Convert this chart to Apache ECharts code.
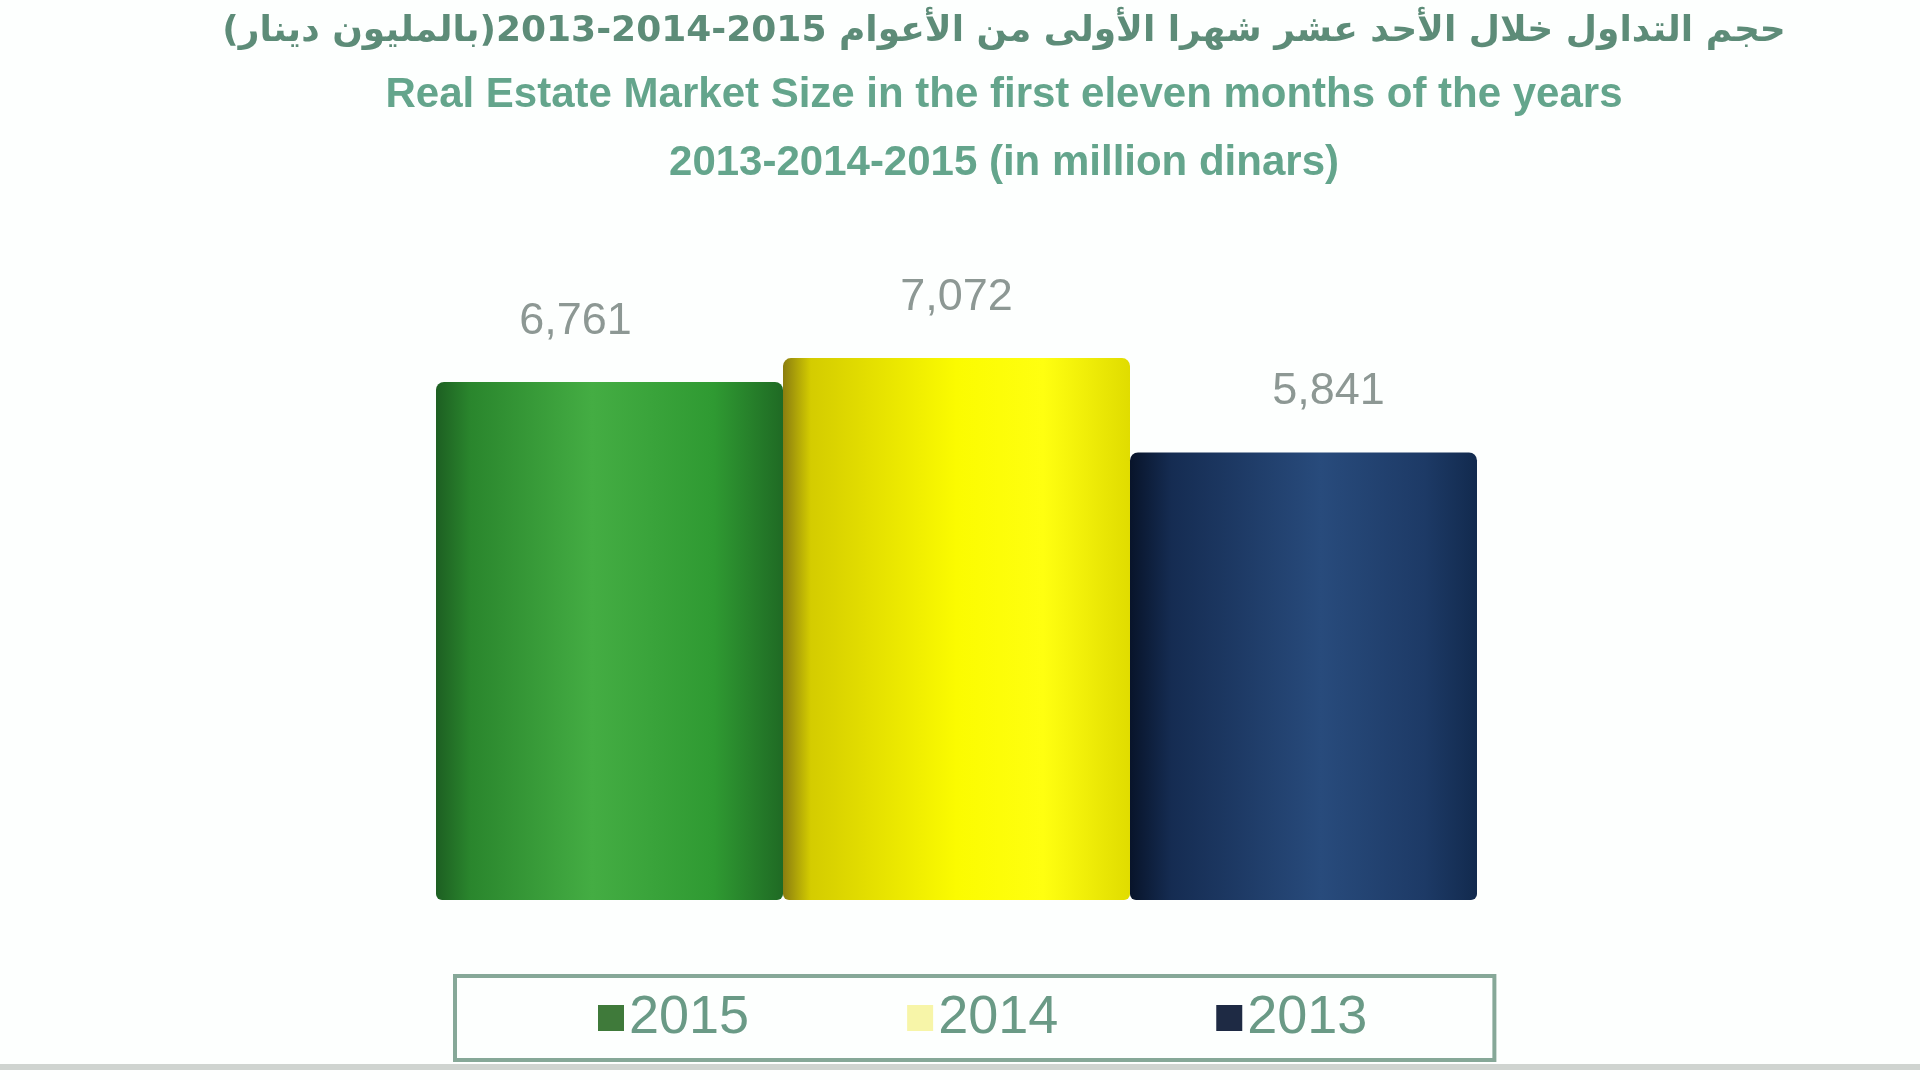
<!DOCTYPE html>
<html>
<head>
<meta charset="utf-8">
<script src="https://cdn.jsdelivr.net/npm/echarts@6/dist/echarts.min.js"></script>
<style>
html,body{margin:0;padding:0;background:#fdfffe;}
#chart{width:1920px;height:1080px;}
</style>
</head>
<body>
<div id="chart"></div>
<script>
const categories = [''];
const seriesNames = ['2015', '2014', '2013'];
const values2015 = [6761];
const values2014 = [7072];
const values2013 = [5841];
const titleArabic = '\u202Bحجم التداول خلال الأحد عشر شهرا الأولى من الأعوام 2015-2014-2013(بالمليون دينار)\u202C';
const titleEn1 = 'Real Estate Market Size in the first eleven months of the years';
const titleEn2 = '2013-2014-2015 (in million dinars)';

function hGrad(stops) {
  return new echarts.graphic.LinearGradient(0, 0, 1, 0, stops.map(c => ({offset: c[0], color: c[1]})));
}
const greenFill = hGrad([[0,'#1d5f22'],[0.1,'#2a862d'],[0.45,'#44ad43'],[0.8,'#2f9a32'],[1,'#1f6a24']]);
const yellowFill = hGrad([[0,'#8a7d10'],[0.08,'#d4cc00'],[0.5,'#fbfb00'],[0.75,'#ffff10'],[1,'#e0dc00']]);
const navyFill = hGrad([[0,'#08142a'],[0.12,'#152c52'],[0.55,'#284b7c'],[0.85,'#1d3a66'],[1,'#122a4e']]);

const labelBase = {show: true, position: 'top', distance: 38, fontSize: 45, color: '#8d9894',
  fontFamily: 'Liberation Sans', formatter: p => p.value.toLocaleString('en-US')};

const titleCx = 1004;
const chart = echarts.init(document.getElementById('chart'));
chart.setOption({
  backgroundColor: '#fdfffe',
  animation: false,
  legend: {
    left: 455, top: 976,
    padding: [15, 127, 15, 143],
    itemGap: 158, itemWidth: 26, itemHeight: 26, icon: 'rect',
    borderColor: '#86a898', borderWidth: 4,
    textStyle: {fontSize: 54, color: '#6a9a86', fontFamily: 'Liberation Sans'},
    data: [
      {name: seriesNames[0], itemStyle: {color: '#3f7a3a'}},
      {name: seriesNames[1], itemStyle: {color: '#f7f5a8'}},
      {name: seriesNames[2], itemStyle: {color: '#1e2a44'}}
    ]
  },
  grid: {left: 300, right: 307, top: 287, bottom: 180},
  xAxis: {type: 'category', data: categories, show: false},
  yAxis: {type: 'value', min: 0, max: 8000, show: false},
  series: [
    {name: seriesNames[0], type: 'bar', data: values2015, barWidth: 347, barGap: '0%',
     itemStyle: {color: greenFill, borderRadius: [8, 8, 6, 6]},
     label: Object.assign({}, labelBase, {offset: [-34, 0]})},
    {name: seriesNames[1], type: 'bar', data: values2014, barWidth: 347, barGap: '0%',
     itemStyle: {color: yellowFill, borderRadius: [8, 8, 6, 6]},
     label: Object.assign({}, labelBase)},
    {name: seriesNames[2], type: 'bar', data: values2013, barWidth: 347, barGap: '0%',
     itemStyle: {color: navyFill, borderRadius: [8, 8, 6, 6]},
     label: Object.assign({}, labelBase, {offset: [25, 0]})}
  ],
  graphic: [
    {type: 'text', x: titleCx, y: 14, silent: true,
     style: {text: titleArabic, align: 'center', verticalAlign: 'top', fontSize: 36, fontWeight: 'bold', fill: '#5d8c78', fontFamily: 'DejaVu Sans'}},
    {type: 'text', x: titleCx, y: 74, silent: true,
     style: {text: titleEn1, align: 'center', verticalAlign: 'top', fontSize: 42, fontWeight: 'bold', fill: '#64a58c', fontFamily: 'Liberation Sans'}},
    {type: 'text', x: titleCx, y: 142, silent: true,
     style: {text: titleEn2, align: 'center', verticalAlign: 'top', fontSize: 42, fontWeight: 'bold', fill: '#64a58c', fontFamily: 'Liberation Sans'}},
    {type: 'rect', left: 0, top: 1064, shape: {width: 1920, height: 6}, style: {fill: '#cfd4d0'}, silent: true}
  ]
});
</script>
</body>
</html>
